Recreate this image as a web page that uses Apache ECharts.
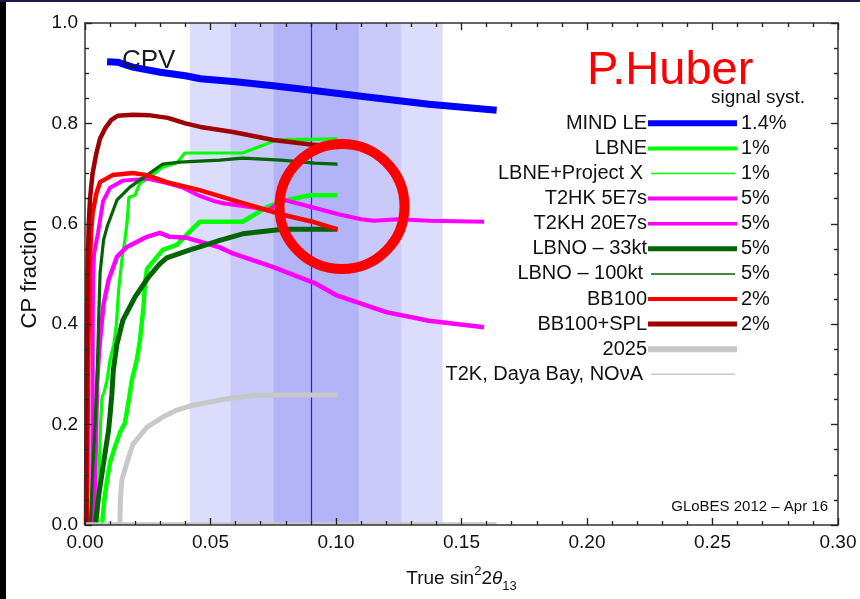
<!DOCTYPE html>
<html><head><meta charset="utf-8">
<script src="https://cdn.jsdelivr.net/npm/echarts@6/dist/echarts.min.js"></script>
<style>html,body{margin:0;padding:0;background:#fff}#c{width:860px;height:599px}</style>
</head><body><div id="c"></div>
<script>
// ---------- data ----------
const xTickLabels = ['0.00','0.05','0.10','0.15','0.20','0.25','0.30'];
const yTickLabels = ['0.0','0.2','0.4','0.6','0.8','1.0'];
const xMajorTicks = [0, 0.05, 0.10, 0.15, 0.20, 0.25, 0.30];
const yMajorTicks = [0, 0.2, 0.4, 0.6, 0.8, 1.0];

const mindLE = [[0.0088,0.923],[0.013,0.922],[0.019,0.912],[0.030,0.902],[0.040,0.895],[0.046,0.889],[0.060,0.883],[0.075,0.875],[0.092,0.865],[0.110,0.854],[0.137,0.838],[0.164,0.826]];
const lbne = [[0.0068,0.0],[0.0077,0.05],[0.0088,0.09],[0.010,0.125],[0.0119,0.155],[0.0140,0.185],[0.0159,0.203],[0.0175,0.25],[0.0187,0.289],[0.0207,0.330],[0.0219,0.368],[0.0233,0.434],[0.0239,0.482],[0.0247,0.510],[0.028,0.530],[0.031,0.548],[0.0366,0.558],[0.0418,0.585],[0.0457,0.604],[0.0628,0.604],[0.0724,0.633],[0.0803,0.647],[0.0895,0.657],[0.1006,0.657]];
const lbnePX = [[0.0050,0.0],[0.0056,0.1],[0.0062,0.2],[0.0068,0.256],[0.0075,0.262],[0.0088,0.289],[0.010,0.33],[0.0115,0.36],[0.0125,0.40],[0.0134,0.468],[0.0147,0.528],[0.0159,0.568],[0.0167,0.60],[0.0175,0.653],[0.0199,0.657],[0.0219,0.681],[0.0247,0.689],[0.031,0.713],[0.0366,0.721],[0.0398,0.741],[0.0628,0.741],[0.0764,0.767],[0.1006,0.769]];
const t2hk5 = [[0.0034,0.0],[0.0040,0.10],[0.0044,0.18],[0.0048,0.28],[0.0054,0.33],[0.006,0.37],[0.0074,0.44],[0.0094,0.488],[0.0127,0.534],[0.0167,0.554],[0.0247,0.574],[0.0298,0.582],[0.0338,0.574],[0.0406,0.572],[0.0537,0.553],[0.0589,0.541],[0.0748,0.514],[0.0915,0.482],[0.100,0.458],[0.120,0.424],[0.137,0.407],[0.159,0.394]];
const t2kh20 = [[0.0028,0.0],[0.0030,0.20],[0.0031,0.40],[0.0032,0.488],[0.0036,0.54],[0.0052,0.582],[0.0072,0.645],[0.010,0.672],[0.0151,0.686],[0.0247,0.690],[0.0326,0.681],[0.039,0.672],[0.046,0.655],[0.051,0.646],[0.055,0.641],[0.065,0.634],[0.073,0.628],[0.077,0.640],[0.080,0.647],[0.092,0.631],[0.101,0.619],[0.110,0.609],[0.115,0.606],[0.125,0.609],[0.137,0.606],[0.159,0.604]];
const lbno33 = [[0.0041,0.0],[0.0055,0.06],[0.0068,0.104],[0.0082,0.15],[0.0094,0.189],[0.0100,0.22],[0.0107,0.26],[0.0113,0.309],[0.0127,0.36],[0.0151,0.408],[0.0199,0.454],[0.0253,0.494],[0.0298,0.520],[0.0326,0.532],[0.0418,0.548],[0.0457,0.554],[0.0537,0.567],[0.0628,0.580],[0.0788,0.589],[0.1006,0.589]];
const lbno100 = [[0.0021,0.0],[0.0030,0.10],[0.0040,0.20],[0.0048,0.289],[0.0054,0.402],[0.006,0.502],[0.0074,0.568],[0.0088,0.594],[0.0127,0.647],[0.0179,0.673],[0.0247,0.697],[0.031,0.719],[0.0378,0.723],[0.0537,0.727],[0.0628,0.731],[0.0780,0.727],[0.0915,0.721],[0.1006,0.719]];
const bb100 = [[0.0008,0.0],[0.0012,0.30],[0.0018,0.50],[0.0024,0.58],[0.003,0.62],[0.0045,0.66],[0.006,0.683],[0.011,0.697],[0.019,0.701],[0.0247,0.697],[0.0326,0.683],[0.0457,0.667],[0.0589,0.647],[0.0788,0.618],[0.0915,0.603],[0.1006,0.589]];
const bb100spl = [[0.0004,0.0],[0.0006,0.30],[0.0010,0.50],[0.0015,0.60],[0.002,0.65],[0.003,0.70],[0.0045,0.74],[0.006,0.77],[0.008,0.79],[0.0105,0.807],[0.013,0.815],[0.019,0.817],[0.026,0.816],[0.033,0.811],[0.040,0.800],[0.046,0.793],[0.059,0.783],[0.075,0.767],[0.090,0.758],[0.1006,0.753]];
const y2025 = [[0.0139,0.0],[0.0141,0.05],[0.0147,0.09],[0.0167,0.124],[0.019,0.16],[0.0247,0.195],[0.031,0.215],[0.0366,0.229],[0.0418,0.237],[0.0537,0.249],[0.0589,0.253],[0.0696,0.259],[0.1006,0.259]];
const t2kNova = [[0.0,0.003],[0.164,0.003]];

const bandLight = [0.0418, 0.1425];
const bandMid = [0.058, 0.126];
const bandDark = [0.0752, 0.109];
const bestFit = 0.0916;

const legendNames = ['MIND LE','LBNE','LBNE+Project X','T2HK 5E7s','T2KH 20E7s','LBNO \u2013 33kt','LBNO \u2013 100kt','BB100','BB100+SPL','2025','T2K, Daya Bay, NO\u03bdA'];
const legendSyst = ['1.4%','1%','1%','5%','5%','5%','5%','2%','2%','',''];
const legendColors = ['#0000ff','#00ff00','#00ff00','#ff00ff','#ff00ff','#006400','#006400','#ff0000','#a00000','#c8c8c8','#c8c8c8'];
const legendWidths = [6,4,1.5,4,3.5,5,1.5,4,5,6,1.5];

// ---------- chart ----------
const FONT = '"Liberation Sans", Arial, Helvetica, sans-serif';
const chart = echarts.init(document.getElementById('c'));

const seriesDefs = [
  {name:'MIND LE', data:mindLE, color:'#0000ff', w:7},
  {name:'LBNE', data:lbne, color:'#00ff00', w:4.5},
  {name:'LBNE+Project X', data:lbnePX, color:'#00ff00', w:3.2},
  {name:'T2HK 5E7s', data:t2hk5, color:'#ff00ff', w:4.5},
  {name:'T2KH 20E7s', data:t2kh20, color:'#ff00ff', w:4},
  {name:'LBNO 33kt', data:lbno33, color:'#006400', w:5},
  {name:'LBNO 100kt', data:lbno100, color:'#006400', w:3.2},
  {name:'BB100', data:bb100, color:'#ff0000', w:4.5},
  {name:'BB100+SPL', data:bb100spl, color:'#a00000', w:4.5},
  {name:'2025', data:y2025, color:'#c8c8c8', w:5},
  {name:'T2K', data:t2kNova, color:'#c8c8c8', w:2.5}
];

function mkAxis(isX, pos, show){
  const o = {
    type:'value', position:pos, min:0, max:isX?0.3:1, interval:isX?0.05:0.2, z:10,
    axisLine:{show:true, onZero:false, lineStyle:{color:'#333', width:1.5}},
    axisTick:{show:true, inside:true, length:7, lineStyle:{color:'#222', width:1.2}},
    minorTick:{show:true, splitNumber:isX?5:4, length:4, lineStyle:{color:'#222', width:1.2}},
    splitLine:{show:false},
    axisLabel:{show:show, margin:isX?8:7, fontSize:19, color:'#111', fontFamily:FONT,
      formatter: isX ? (v)=>xTickLabels[Math.round(v/0.05)]||'' : (v)=>yTickLabels[Math.round(v/0.2)]||''}
  };
  if (show && isX){
    o.name = '{n|True sin}{sup|2}{n|2}{it|\u03b8}{sub|13}';
    o.nameLocation = 'middle'; o.nameGap = 40;
    o.nameTextStyle = {fontFamily:FONT, fontSize:19, color:'#111',
      rich:{
        n:{fontFamily:FONT, fontSize:19, color:'#111', lineHeight:28},
        it:{fontFamily:FONT, fontSize:19, fontStyle:'italic', color:'#111', lineHeight:28},
        sup:{fontFamily:FONT, fontSize:13, color:'#111', lineHeight:14, verticalAlign:'top'},
        sub:{fontFamily:FONT, fontSize:13, color:'#111', lineHeight:14, verticalAlign:'bottom'}
      }};
  }
  if (show && !isX){
    o.name = 'CP fraction';
    o.nameLocation = 'middle'; o.nameGap = 37;
    o.nameTextStyle = {fontFamily:FONT, fontSize:22, color:'#111'};
  }
  return o;
}

// tick marks as short marker segments on all four frame sides (lengths in axis units: ~7px major, ~4px minor)
const X_MAJ = 0.0028, X_MIN = 0.0016, Y_MAJ = 0.014, Y_MIN = 0.008;
const tickSegs = [];
function addXTick(v, lenY){
  tickSegs.push([{coord:[v,0]},{coord:[v,lenY]}]);
  tickSegs.push([{coord:[v,1]},{coord:[v,1-lenY]}]);
}
function addYTick(v, lenX){
  tickSegs.push([{coord:[0,v]},{coord:[lenX,v]}]);
  tickSegs.push([{coord:[0.3,v]},{coord:[0.3-lenX,v]}]);
}
xMajorTicks.forEach(v=>addXTick(v, Y_MAJ));
for (let i=0;i<xMajorTicks.length-1;i++) for (let k=1;k<5;k++) addXTick(xMajorTicks[i]+(xMajorTicks[i+1]-xMajorTicks[i])*k/5, Y_MIN);
yMajorTicks.forEach(v=>addYTick(v, X_MAJ));
for (let i=0;i<yMajorTicks.length-1;i++) for (let k=1;k<4;k++) addYTick(yMajorTicks[i]+(yMajorTicks[i+1]-yMajorTicks[i])*k/4, X_MIN);

function bandSeries(range, color){
  return {type:'line', data:[], z:1, silent:true,
    markArea:{silent:true, itemStyle:{color:color, opacity:1}, data:[[{xAxis:range[0]},{xAxis:range[1]}]]}};
}

const series = [
  bandSeries(bandLight, '#dcdcfc'),
  bandSeries(bandMid, '#c9c9fa'),
  bandSeries(bandDark, '#b3b3f8'),
  {type:'line', data:[], z:2, silent:true,
   markLine:{silent:true, symbol:'none', label:{show:false},
     lineStyle:{color:'#2222ff', width:1.2, type:'solid'}, data:[{xAxis:bestFit}]}}
];
seriesDefs.forEach(s=>{
  series.push({type:'line', name:s.name, data:s.data, showSymbol:false, symbol:'none',
    z:5, silent:true,
    lineStyle:{color:s.color, width:s.w, join:'round', cap:'butt'}});
});
series.push({type:'line', data:[], z:12, silent:true,
  markLine:{silent:true, symbol:'none', label:{show:false}, animation:false,
    lineStyle:{color:'#222', width:1.2, type:'solid'}, data:tickSegs}});

// graphic elements: frame, annotations, legend
const graphic = [
  {type:'rect', left:0, top:0, shape:{width:6, height:599}, style:{fill:'#000'}, z:200},
  {type:'rect', left:0, top:0, shape:{width:860, height:2}, style:{fill:'#1c1c4c'}, z:200},
  {type:'text', x:122, y:61, z:100, style:{text:'CPV', font:'26px '+FONT, fill:'#1a1a1a', textVerticalAlign:'middle'}},
  {type:'text', x:587, y:71, z:100, style:{text:'P.Huber', font:'47px '+FONT, fill:'#ff0000', textVerticalAlign:'middle'}},
  {type:'text', x:805, y:98, z:100, style:{text:'signal syst.', font:'19px '+FONT, fill:'#111', textAlign:'right', textVerticalAlign:'middle'}},
  {type:'text', x:828, y:507, z:100, style:{text:'GLoBES 2012 \u2013 Apr 16', font:'15px '+FONT, fill:'#111', textAlign:'right', textVerticalAlign:'middle'}},
  {type:'circle', z:150, shape:{cx:342, cy:206.5, r:62.5}, style:{fill:'none', stroke:'#ff0000', lineWidth:10}}
];
legendNames.forEach((nm,i)=>{
  const y = 123.3 + 25.1*i;
  const thin = legendWidths[i] < 2;
  graphic.push({type:'text', x: thin?643:647, y:y, z:100, style:{text:nm, font:'20px '+FONT, fill:'#111', textAlign:'right', textVerticalAlign:'middle'}});
  graphic.push({type:'line', z:100, shape:{x1: thin?651:648, y1:y, x2: thin?735:737, y2:y}, style:{stroke:legendColors[i], lineWidth:legendWidths[i]}});
  if (legendSyst[i]) graphic.push({type:'text', x:741, y:y, z:100, style:{text:legendSyst[i], font:'20px '+FONT, fill:'#111', textVerticalAlign:'middle'}});
});

chart.setOption({
  animation:false,
  backgroundColor:'#ffffff',
  grid:{left:85, right:22, top:23, bottom:74, containLabel:false},
  xAxis:[mkAxis(true,'bottom',true), mkAxis(true,'top',false)],
  yAxis:[mkAxis(false,'left',true), mkAxis(false,'right',false)],
  series: series,
  graphic: graphic
});
</script>
</body></html>
